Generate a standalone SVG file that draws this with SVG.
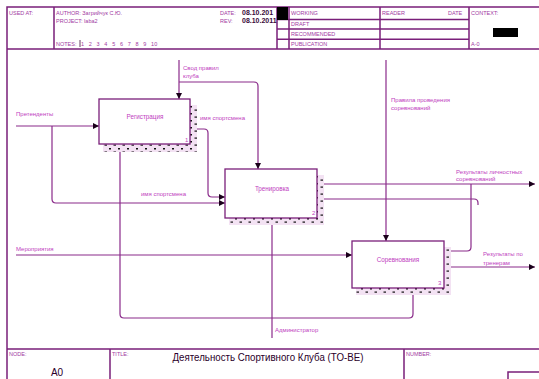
<svg xmlns="http://www.w3.org/2000/svg" width="539" height="379" viewBox="0 0 539 379">
<style>
.frame{fill:none;stroke:#7a1f7a;stroke-width:1.5}
.hdr{font-family:"Liberation Sans",Arial,sans-serif;font-size:5.5px;fill:#a23aa2}
.val{font-family:"Liberation Sans",Arial,sans-serif;font-size:7px;font-weight:bold;fill:#3a0a3a}
.box{fill:#fff;stroke:#7a1f7a;stroke-width:1.3}
.btxt{font-family:"Liberation Sans",Arial,sans-serif;font-size:6.3px;fill:#c040c0;text-anchor:middle}
.num{font-family:"Liberation Sans",Arial,sans-serif;font-size:6px;fill:#c040c0}
.lbl{font-family:"Liberation Sans",Arial,sans-serif;font-size:6px;fill:#c040c0}
.ln{fill:none;stroke:#8a2a8a;stroke-width:1.2}
.arr{fill:none;stroke:#8a2a8a;stroke-width:1.2;marker-end:url(#ah)}
</style>
<defs>
<marker id="ah" viewBox="0 0 8 8" refX="8" refY="4" markerWidth="6" markerHeight="6" markerUnits="userSpaceOnUse" orient="auto">
<path d="M0,0 L8,4 L0,8 Z" fill="#1a001a"/>
</marker>
<pattern id="hatch" width="9" height="7" patternUnits="userSpaceOnUse">
<rect width="9" height="7" fill="#f3e2f3"/>
<rect x="1" y="1" width="2" height="1.5" fill="#111"/>
<rect x="5.5" y="4.5" width="2.5" height="1.2" fill="#111"/>
</pattern>
</defs>
<rect width="539" height="379" fill="#fff"/>
<g id="frame">
<path class="frame" d="M7,379 V7 H545 M7,49 H545 M54,7 V49 M277,7 V49 M289,7 V49 M380,7 V49 M469,7 V49 M277,19.5 H469 M277,29 H469 M277,39.3 H469 M7,349 H545 M110,349 V379 M404,349 V379 M508,379 V372 H545"/>
<rect x="277" y="7" width="11" height="13" fill="#000"/>
<rect x="493" y="28" width="25" height="9" fill="#000"/>
<line x1="80" y1="40" x2="80" y2="47" stroke="#3a0a3a" stroke-width="0.8"/>
<text class="hdr" x="9" y="15">USED AT:</text>
<text class="hdr" x="56" y="15">AUTHOR:  Загрийчук С.Ю.</text>
<text class="hdr" x="56" y="23">PROJECT:  laba2</text>
<text class="hdr" x="56" y="46">NOTES:</text>
<text class="hdr" x="81" y="46" word-spacing="3.2">1 2 3 4 5 6 7 8 9 10</text>
<text class="hdr" x="220" y="15">DATE:</text>
<text class="hdr" x="220" y="23">REV:</text>
<text class="val" x="242" y="15">08.10.201</text>
<text class="val" x="242" y="23">08.10.2011</text>
<text class="hdr" x="291" y="15">WORKING</text>
<text class="hdr" x="291" y="26">DRAFT</text>
<text class="hdr" x="291" y="36">RECOMMENDED</text>
<text class="hdr" x="291" y="46">PUBLICATION</text>
<text class="hdr" x="382" y="15">READER</text>
<text class="hdr" x="448" y="15">DATE</text>
<text class="hdr" x="471" y="15">CONTEXT:</text>
<text class="hdr" x="471" y="46">A-0</text>
<text class="hdr" x="9" y="356">NODE:</text>
<text class="hdr" x="112" y="356">TITLE:</text>
<text class="hdr" x="406" y="356">NUMBER:</text>
<text x="57" y="376" font-family="'Liberation Sans',Arial,sans-serif" font-size="10" fill="#2a002a" text-anchor="middle">A0</text>
<text x="268" y="361" font-family="'Liberation Sans',Arial,sans-serif" font-size="10" fill="#2a002a" text-anchor="middle" textLength="191" lengthAdjust="spacingAndGlyphs">Деятельность Спортивного Клуба (TO-BE)</text>
</g>
<g id="connectors">
<path class="arr" d="M16,126 H99"/>
<path class="arr" d="M52,126 V199 Q52,203 56,203 H225"/>
<path class="arr" d="M179,60 V99"/>
<path class="arr" d="M179,82 H254 Q258,82 258,86 V169"/>
<path class="arr" d="M190,129 H204 Q208,129 208,133 V193 Q208,197 212,197 H225"/>
<path class="arr" d="M16,255 H352"/>
<path class="arr" d="M386,60 V241"/>
<path class="arr" d="M317,184 H535"/>
<path class="ln" d="M317,199 H474 Q478,199 478,203 V205"/>
<path class="ln" d="M444,251 H467 Q471,251 471,247 V184"/>
<path class="arr" d="M444,267 H535"/>
<path class="arr" d="M272,338 V218"/>
<path class="arr" d="M272,318 H124 Q120,318 120,314 V145"/>
<path class="arr" d="M272,318 H409 Q413,318 413,314 V288"/>
<text class="lbl" x="16" y="116">Претенденты</text>
<text class="lbl" x="183" y="70">Свод правил</text>
<text class="lbl" x="183" y="78">клуба</text>
<text class="lbl" x="200" y="120">имя спортсмена</text>
<text class="lbl" x="141" y="196">имя спортсмена</text>
<text class="lbl" x="16" y="251">Мероприятия</text>
<text class="lbl" x="391" y="102">Правила проведения</text>
<text class="lbl" x="391" y="110">соревнований</text>
<text class="lbl" x="456" y="174">Результаты личностных</text>
<text class="lbl" x="456" y="181">соревнований</text>
<text class="lbl" x="483" y="256">Результаты по</text>
<text class="lbl" x="483" y="265">тренерам</text>
<text class="lbl" x="275" y="332">Администратор</text>
</g>
<g id="node1">
<path d="M103,145 H197 V105 H190 V144 H103 Z M103,145 V152 H197 V145" fill="url(#hatch)"/>
<rect class="box" x="99" y="99" width="91" height="45"/>
<text class="btxt" x="145" y="119">Регистрация</text>
<text class="num" x="185" y="142">1</text>
</g>
<g id="node2">
<rect x="229" y="218" width="95" height="7" fill="url(#hatch)"/>
<rect x="317" y="175" width="7" height="43" fill="url(#hatch)"/>
<rect class="box" x="225" y="169" width="92" height="49"/>
<text class="btxt" x="272" y="191">Тренировка</text>
<text class="num" x="312" y="215">2</text>
</g>
<g id="node3">
<rect x="356" y="288" width="95" height="7" fill="url(#hatch)"/>
<rect x="444" y="247" width="7" height="41" fill="url(#hatch)"/>
<rect class="box" x="352" y="241" width="92" height="47"/>
<text class="btxt" x="398" y="262">Соревнования</text>
<text class="num" x="438" y="285">3</text>
</g>
</svg>
